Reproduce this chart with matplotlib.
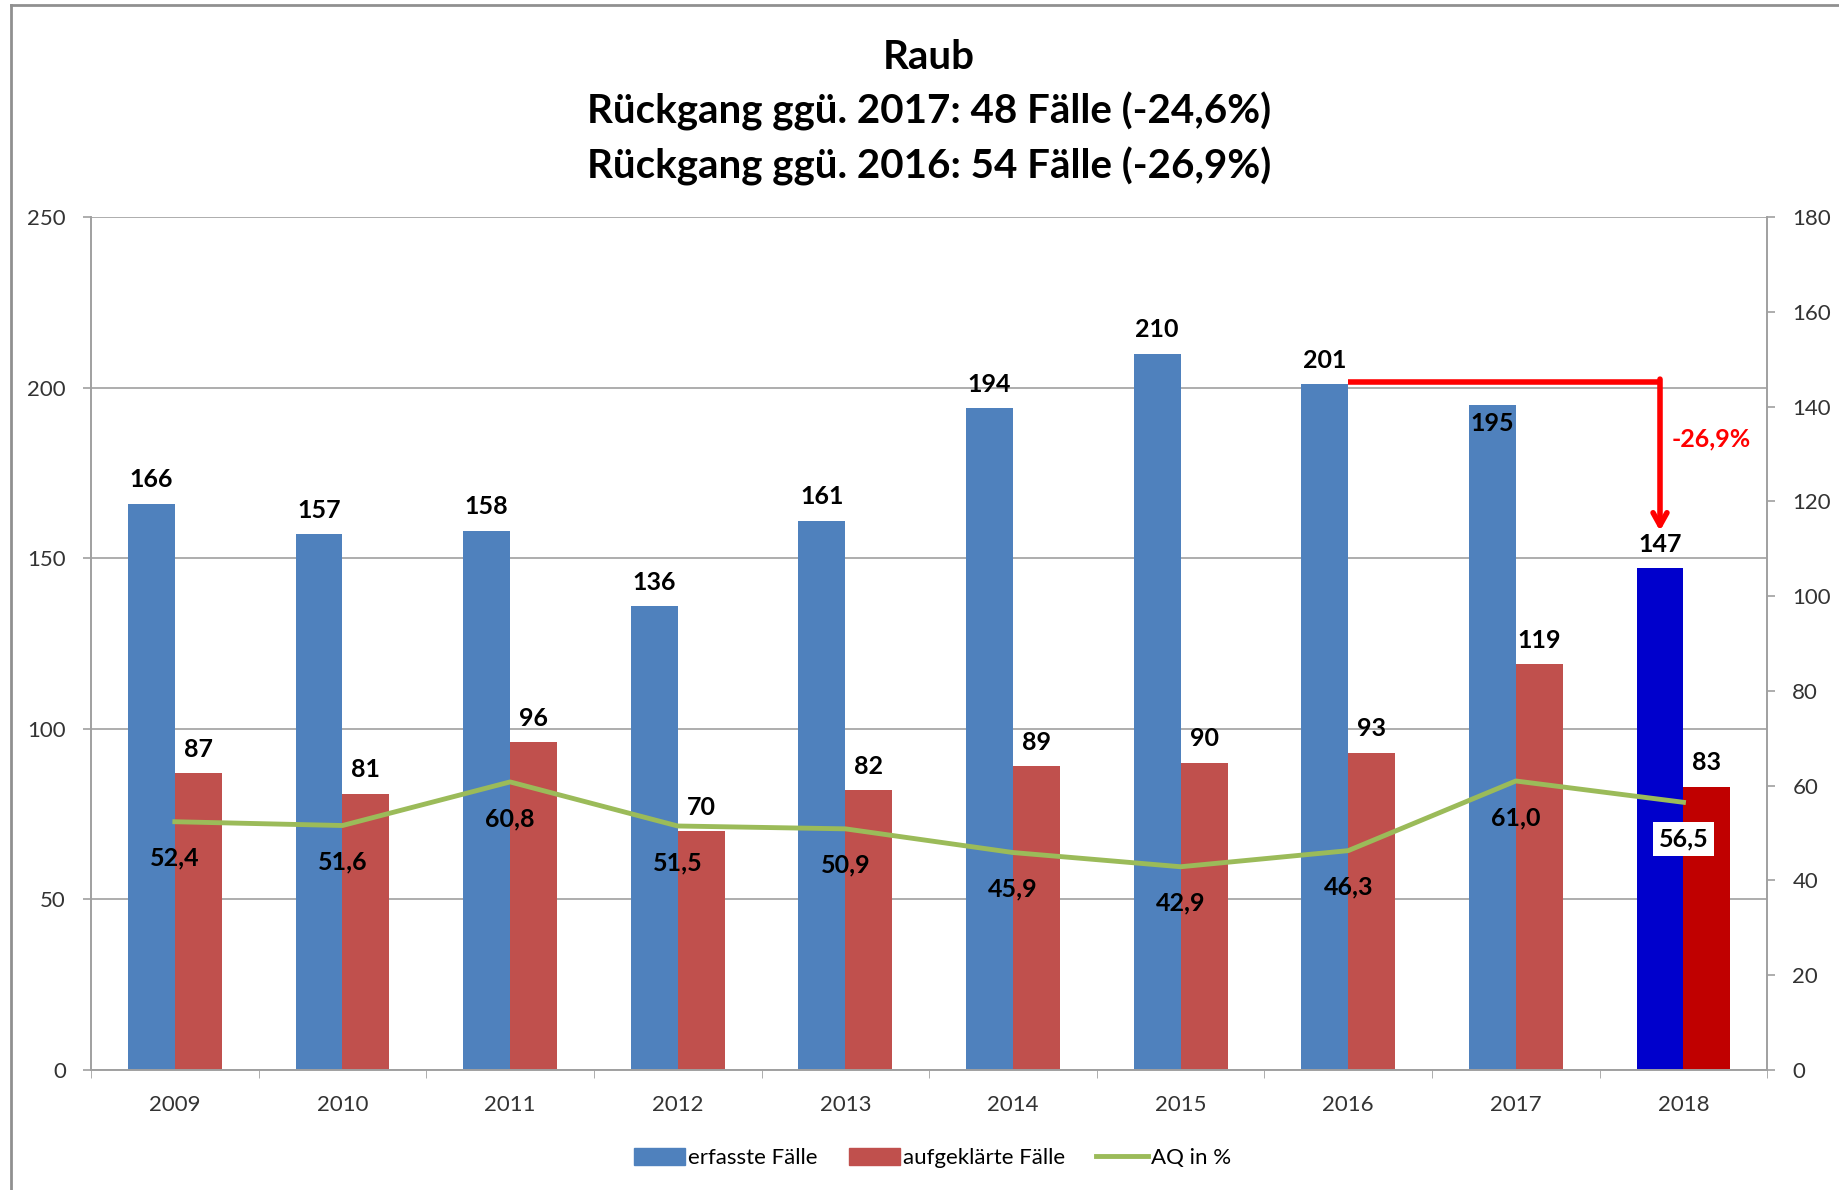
import matplotlib.pyplot as plt
import matplotlib.patches as mpatches
import matplotlib.lines as mlines
import numpy as np

plt.rcParams['font.family'] = ['Lato', 'DejaVu Sans']

# data
years = ["2009", "2010", "2011", "2012", "2013", "2014", "2015", "2016", "2017", "2018"]
erfasst = [166, 157, 158, 136, 161, 194, 210, 201, 195, 147]
aufgeklaert = [87, 81, 96, 70, 82, 89, 90, 93, 119, 83]
aq = [52.4, 51.6, 60.8, 51.5, 50.9, 45.9, 42.9, 46.3, 61.0, 56.5]

c_blue = "#4F81BD"
c_red = "#C0504D"
c_green = "#9BBB59"
c_blue_hl = "#0000CC"
c_red_hl = "#C00000"

fig = plt.figure(figsize=(18.39, 11.90), dpi=100)
ax = fig.add_axes([0.0495, 0.1008, 0.9115, 0.7168])
ax2 = ax.twinx()

x = np.arange(len(years))
w = 0.28
blue_cols = [c_blue] * (len(years) - 1) + [c_blue_hl]
red_cols = [c_red] * (len(years) - 1) + [c_red_hl]
ax.bar(x - w / 2, erfasst, w, color=blue_cols, zorder=2)
ax.bar(x + w / 2, aufgeklaert, w, color=red_cols, zorder=2)

ax.set_xlim(-0.5, len(years) - 0.5)
ax.set_ylim(0, 250)
ax.set_yticks(range(0, 251, 50))
ax2.set_ylim(0, 180)
ax2.set_yticks(range(0, 181, 20))

ax.yaxis.grid(True, color="#A0A0A0", lw=1.2, zorder=0)
ax.set_axisbelow(True)
for a in (ax, ax2):
    for s in a.spines.values():
        s.set_color("#A0A0A0")
        s.set_linewidth(1.2)
    a.spines["top"].set_visible(False)
    a.tick_params(colors="#333333", labelsize=16, length=6, width=1.2, direction="out")
    a.tick_params(axis="y", color="#A0A0A0")
ax.set_xticks(x)
ax.set_xticklabels(years, fontsize=16)
ax.tick_params(axis="x", length=0, pad=18)
ax.set_xticks(np.arange(-0.5, len(years), 1), minor=True)
ax.tick_params(axis="x", which="minor", length=6, color="#A0A0A0")
ax.tick_params(axis="y", pad=12)
ax2.tick_params(axis="y", pad=12)

# AQ line on right axis
ax2.plot(x, aq, color=c_green, lw=3.5, zorder=3)
ax2.set_zorder(ax.get_zorder() + 1)
ax2.patch.set_visible(False)

# bar labels
for i, v in enumerate(erfasst):
    if years[i] == "2017":
        ax.text(x[i] - w / 2, v - 2, str(v), ha="center", va="top", fontsize=18, fontweight="bold")
    else:
        ax.annotate(str(v), (x[i] - w / 2, v), xytext=(0, 9), textcoords="offset points",
                    ha="center", va="bottom", fontsize=18, fontweight="bold")
for i, v in enumerate(aufgeklaert):
    ax.annotate(str(v), (x[i] + w / 2, v), xytext=(0, 9), textcoords="offset points",
                ha="center", va="bottom", fontsize=18, fontweight="bold")

for i, v in enumerate(aq):
    lbl = f"{v:.1f}".replace(".", ",")
    bbox = dict(facecolor="white", edgecolor="none", pad=4) if i == len(aq) - 1 else None
    ax2.annotate(lbl, (x[i], v), xytext=(0, -18), textcoords="offset points",
                 ha="center", va="top", fontsize=18, fontweight="bold", bbox=bbox, zorder=5)

# red arrow 2016 -> 2018
i16, i18 = years.index("2016"), years.index("2018")
y_top = erfasst[i16] + 0.8
ax.plot([x[i16], x[i18] - w / 2], [y_top, y_top], color="red", lw=4, zorder=4,
        solid_capstyle="butt")
ax.annotate("", xy=(x[i18] - w / 2, erfasst[i18] + 11), xytext=(x[i18] - w / 2, y_top + 0.7),
            arrowprops=dict(arrowstyle="->,head_length=0.9,head_width=0.5", color="red", lw=4,
                            shrinkA=0, shrinkB=0),
            zorder=4)
pct = (erfasst[i18] - erfasst[i16]) / erfasst[i16] * 100
ax.text(x[i18] - w / 2 + 0.07, 185, f"{pct:.1f}%".replace(".", ","), color="red",
        fontsize=18, fontweight="bold", ha="left", va="center")

# title
fig.text(0.505, 0.952, "Raub", ha="center", va="center", fontsize=29, fontweight="bold")
fig.text(0.505, 0.906, "Rückgang ggü. 2017: 48 Fälle (-24,6%)", ha="center", va="center",
         fontsize=29, fontweight="bold")
fig.text(0.505, 0.860, "Rückgang ggü. 2016: 54 Fälle (-26,9%)", ha="center", va="center",
         fontsize=29, fontweight="bold")

# legend
handles = [mpatches.Patch(color=c_blue, label="erfasste Fälle"),
           mpatches.Patch(color=c_red, label="aufgeklärte Fälle"),
           mlines.Line2D([], [], color=c_green, lw=3.5, label="AQ in %")]
fig.legend(handles=handles, loc="center", bbox_to_anchor=(0.507, 0.027), ncol=3,
           frameon=False, fontsize=16, handlelength=2.3, handleheight=0.8,
           handletextpad=0.15, columnspacing=1.4)

# outer frame
fig.add_artist(mlines.Line2D([0.006, 0.006], [0, 0.996], color="#909090", lw=2,
                             transform=fig.transFigure))
fig.add_artist(mlines.Line2D([0.006, 1], [0.996, 0.996], color="#909090", lw=2,
                             transform=fig.transFigure))

fig.savefig("out.png", dpi=100)
